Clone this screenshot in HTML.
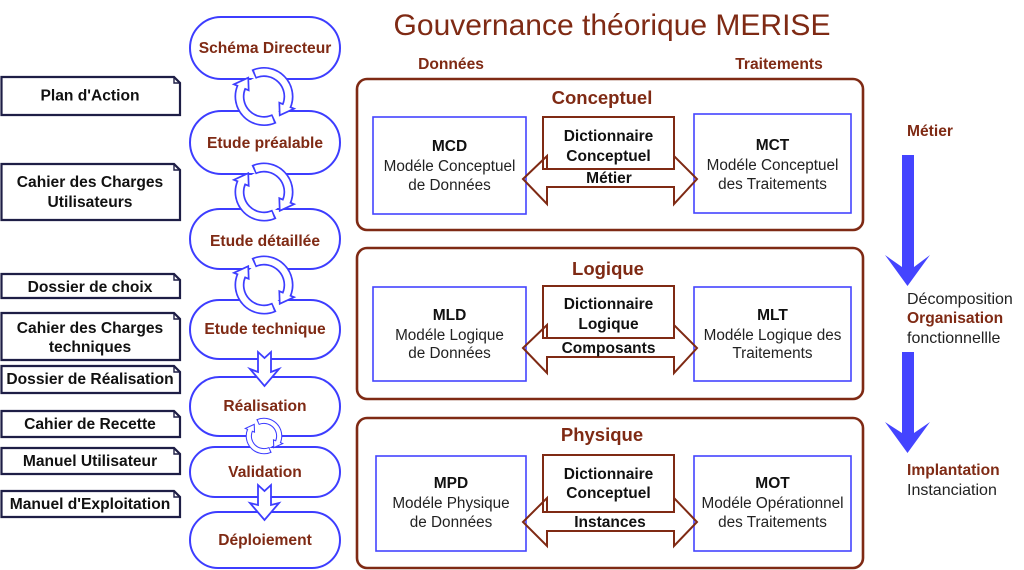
<!DOCTYPE html>
<html><head><meta charset="utf-8"><style>
html,body{margin:0;padding:0;background:#fff;}
svg{display:block;}
text{font-family:"Liberation Sans",Arial,sans-serif;}
.st{fill:#fff;stroke:#3d3dff;stroke-width:2;}
.stt{font-weight:bold;font-size:15.6px;fill:#7f2a14;text-anchor:middle;}
.doc{fill:#fff;stroke:#1e1e46;stroke-width:2.2;}
.fold{fill:none;stroke:#1e1e46;stroke-width:1.4;}
.dt{font-weight:bold;font-size:15.6px;fill:#111;text-anchor:middle;}
.big{fill:#fff;stroke:#7f2a14;stroke-width:2.6;}
.bt{font-weight:bold;font-size:18.5px;fill:#7f2a14;text-anchor:middle;}
.bb{fill:#fff;stroke:#4444ff;stroke-width:1.6;}
.dict{fill:#fff;stroke:#7f2a14;stroke-width:2;}
.arr{fill:none;stroke:#7f2a14;stroke-width:2;}
.b{font-weight:bold;font-size:15.5px;fill:#111;text-anchor:middle;}
.r{font-size:15.3px;fill:#222;text-anchor:middle;}
.rb{font-weight:bold;font-size:15.6px;fill:#7f2a14;}
.rr{font-size:16px;fill:#222;}
</style></head><body>
<svg width="1024" height="570" viewBox="0 0 1024 570" xmlns="http://www.w3.org/2000/svg">
<defs>
<g id="ring">
  <circle cx="0" cy="0" r="21" fill="#fff"/>
  <!-- arrow 1 -->
  <path d="M-10.35,-22.2 A24.5,24.5 0 0 1 22.72,9.18" fill="none" stroke="#3d3dff" stroke-width="10"/>
  <polygon points="15.3,6.18 30.13,12.17 15.75,18.77" fill="#fff" stroke="#3d3dff" stroke-width="1.7" stroke-linejoin="miter"/>
  <path d="M-8.78,-22.87 A24.5,24.5 0 0 1 22.2,10.35" fill="none" stroke="#fff" stroke-width="6.6"/>
  <!-- arrow 2 -->
  <path d="M10.35,22.2 A24.5,24.5 0 0 1 -22.72,-9.18" fill="none" stroke="#3d3dff" stroke-width="10"/>
  <polygon points="-15.3,-6.18 -30.13,-12.17 -15.75,-18.77" fill="#fff" stroke="#3d3dff" stroke-width="1.7" stroke-linejoin="miter"/>
  <path d="M8.78,22.87 A24.5,24.5 0 0 1 -22.2,-10.35" fill="none" stroke="#fff" stroke-width="6.6"/>
</g>
</defs>

<!-- Title -->
<text x="612" y="35" font-size="30" fill="#7f2a14" text-anchor="middle">Gouvernance théorique MERISE</text>
<text x="451" y="69" class="rb" text-anchor="middle">Données</text>
<text x="779" y="69" class="rb" text-anchor="middle">Traitements</text>

<!-- Stadiums -->
<rect class="st" x="190" y="17" width="150" height="62" rx="31"/>
<rect class="st" x="190" y="111" width="150" height="63" rx="31.5"/>
<rect class="st" x="190" y="209" width="150" height="60" rx="30"/>
<rect class="st" x="190" y="300" width="150" height="59" rx="29.5"/>
<rect class="st" x="190" y="377" width="150" height="59" rx="29.5"/>
<rect class="st" x="190" y="447" width="150" height="50" rx="25"/>
<rect class="st" x="190" y="512" width="150" height="56" rx="28"/>

<!-- Rings -->
<use href="#ring" transform="translate(264,96.5)"/>
<use href="#ring" transform="translate(264,192)"/>
<use href="#ring" transform="translate(264,285)"/>
<use href="#ring" transform="translate(264,436) scale(0.62)"/>

<!-- Down block arrows -->
<polygon points="258,352 264.5,358 271,352 271,372 279,369 264.5,386 250,369 258,372" fill="#fff" stroke="#3d3dff" stroke-width="1.8"/>
<polygon points="258,485 264.5,491 271,485 271,505 279,503 264.5,520 250,503 258,505" fill="#fff" stroke="#3d3dff" stroke-width="1.8"/>

<text class="stt" x="265" y="53">Schéma Directeur</text>
<text class="stt" x="265" y="148">Etude préalable</text>
<text class="stt" x="265" y="246">Etude détaillée</text>
<text class="stt" x="265" y="334">Etude technique</text>
<text class="stt" x="265" y="411">Réalisation</text>
<text class="stt" x="265" y="477">Validation</text>
<text class="stt" x="265" y="545">Déploiement</text>

<!-- Documents -->
<path class="doc" d="M1.5,77 H174 L180,83 V115 H1.5 Z"/><path class="fold" d="M174,77 V83 H180"/>
<text class="dt" x="90" y="100.5">Plan d'Action</text>

<path class="doc" d="M1.5,164 H174 L180,170 V220 H1.5 Z"/><path class="fold" d="M174,164 V170 H180"/>
<text class="dt" x="90" y="187">Cahier des Charges</text>
<text class="dt" x="90" y="207">Utilisateurs</text>

<path class="doc" d="M1.5,274 H174 L180,280 V298 H1.5 Z"/><path class="fold" d="M174,274 V280 H180"/>
<text class="dt" x="90" y="292">Dossier de choix</text>

<path class="doc" d="M1.5,313 H174 L180,319 V360 H1.5 Z"/><path class="fold" d="M174,313 V319 H180"/>
<text class="dt" x="90" y="333">Cahier des Charges</text>
<text class="dt" x="90" y="352">techniques</text>

<path class="doc" d="M1.5,366 H174 L180,372 V393 H1.5 Z"/><path class="fold" d="M174,366 V372 H180"/>
<text class="dt" x="90" y="384">Dossier de Réalisation</text>

<path class="doc" d="M1.5,411 H174 L180,417 V437 H1.5 Z"/><path class="fold" d="M174,411 V417 H180"/>
<text class="dt" x="90" y="429">Cahier de Recette</text>

<path class="doc" d="M1.5,448 H174 L180,454 V474 H1.5 Z"/><path class="fold" d="M174,448 V454 H180"/>
<text class="dt" x="90" y="466">Manuel Utilisateur</text>

<path class="doc" d="M1.5,491 H174 L180,497 V517 H1.5 Z"/><path class="fold" d="M174,491 V497 H180"/>
<text class="dt" x="90" y="509">Manuel d'Exploitation</text>

<!-- Conceptuel -->
<rect class="big" x="357" y="79" width="506" height="151" rx="10"/>
<text class="bt" x="602" y="104">Conceptuel</text>
<rect class="bb" x="373" y="117" width="153" height="97"/>
<text class="b" x="449.5" y="151">MCD</text>
<text class="r" x="449.5" y="171">Modéle Conceptuel</text>
<text class="r" x="449.5" y="190">de Données</text>
<rect class="bb" x="694" y="114" width="157" height="99"/>
<text class="b" x="772.5" y="150">MCT</text>
<text class="r" x="772.5" y="170">Modéle Conceptuel</text>
<text class="r" x="772.5" y="189">des Traitements</text>
<rect class="dict" x="543" y="117" width="131" height="52"/>
<polygon class="arr" points="523,179 547,156 547,169 674,169 674,156 697,179 674,204 674,187 547,187 547,204"/>
<text class="b" x="608.5" y="141">Dictionnaire</text>
<text class="b" x="608.5" y="161">Conceptuel</text>
<text class="b" x="609" y="183">Métier</text>

<!-- Logique -->
<rect class="big" x="357" y="248" width="506" height="151" rx="10"/>
<text class="bt" x="608" y="275">Logique</text>
<rect class="bb" x="373" y="287" width="153" height="94"/>
<text class="b" x="449.5" y="320">MLD</text>
<text class="r" x="449.5" y="340">Modéle Logique</text>
<text class="r" x="449.5" y="358">de Données</text>
<rect class="bb" x="694" y="287" width="157" height="94"/>
<text class="b" x="772.5" y="320">MLT</text>
<text class="r" x="772.5" y="340">Modéle Logique des</text>
<text class="r" x="772.5" y="358">Traitements</text>
<rect class="dict" x="543" y="286" width="131" height="52"/>
<polygon class="arr" points="523,348 547,325 547,338 674,338 674,325 697,348 674,373 674,357 547,357 547,373"/>
<text class="b" x="608.5" y="309">Dictionnaire</text>
<text class="b" x="608.5" y="329">Logique</text>
<text class="b" x="608.5" y="353">Composants</text>

<!-- Physique -->
<rect class="big" x="357" y="418" width="506" height="150" rx="10"/>
<text class="bt" x="602" y="441">Physique</text>
<rect class="bb" x="376" y="456" width="150" height="95"/>
<text class="b" x="451" y="488">MPD</text>
<text class="r" x="451" y="508">Modéle Physique</text>
<text class="r" x="451" y="527">de Données</text>
<rect class="bb" x="694" y="456" width="157" height="95"/>
<text class="b" x="772.5" y="488">MOT</text>
<text class="r" x="772.5" y="508">Modéle Opérationnel</text>
<text class="r" x="772.5" y="527">des Traitements</text>
<rect class="dict" x="543" y="455" width="131" height="57"/>
<polygon class="arr" points="523,522 547,498 547,512 674,512 674,498 697,522 674,546 674,531 547,531 547,546"/>
<text class="b" x="608.5" y="479">Dictionnaire</text>
<text class="b" x="608.5" y="498">Conceptuel</text>
<text class="b" x="610" y="527">Instances</text>

<!-- Right side -->
<text class="rb" x="907" y="136">Métier</text>
<polygon points="902,155 914,155 914,267 930,255 907.5,286 885,255 902,267" fill="#4444ff"/>
<text class="rr" x="907" y="304">Décomposition</text>
<text class="rb" x="907" y="323">Organisation</text>
<text class="rr" x="907" y="343">fonctionnellle</text>
<polygon points="902,352 914,352 914,433 930,422 907.5,453 885,422 902,433" fill="#4444ff"/>
<text class="rb" x="907" y="475">Implantation</text>
<text class="rr" x="907" y="495">Instanciation</text>
</svg>
</body></html>
